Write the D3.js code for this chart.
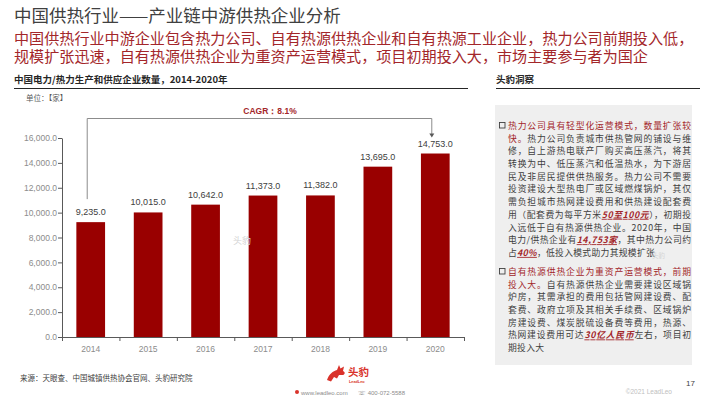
<!DOCTYPE html>
<html>
<head>
<meta charset="utf-8">
<script src="https://cdn.jsdelivr.net/npm/d3@7"></script>
<style>
  body { margin: 0; background: #fff; }
  svg text { font-family: "Noto Sans CJK SC", "Noto Sans", sans-serif; }
  .num { font-family: "Liberation Sans", Arial, sans-serif !important; }
</style>
</head>
<body>
<div class="container"></div>
<script>
var width = 710;
var height = 399;

// chart data
var years = ['2014', '2015', '2016', '2017', '2018', '2019', '2020'];
var counts = [9235, 10015, 10642, 11373, 11382, 13695, 14753];
var yTicks = [0, 2000, 4000, 6000, 8000, 10000, 12000, 14000, 16000];
var cagrLabel = 'CAGR：8.1%';

// texts
var pageTitle = '中国供热行业——产业链中游供热企业分析';
var subTitle = [
  '中国供热行业中游企业包含热力公司、自有热源供热企业和自有热源工业企业，热力公司前期投入低，',
  '规模扩张迅速，自有热源供热企业为重资产运营模式，项目初期投入大，市场主要参与者为国企'
];
var chartTitle = '中国电力/热力生产和供应企业数量，2014-2020年';
var unitLabel = '单位：【家】';
var sideTitle = '头豹洞察';
var sourceText = '来源：天眼查、中国城镇供热协会官网、头豹研究院';

// side panel lines: [text, style] segments; r = red lead, e = emphasis, n = normal
var insight1 = [
  [['热力公司具有轻型化运营模式，数量扩张较', 'r']],
  [['快。', 'r'], ['热力公司负责城市供热管网的铺设与维', 'n']],
  [['修，自上游热电联产厂购买高压蒸汽，将其', 'n']],
  [['转换为中、低压蒸汽和低温热水，为下游居', 'n']],
  [['民及非居民提供供热服务。热力公司不需要', 'n']],
  [['投资建设大型热电厂或区域燃煤锅炉，其仅', 'n']],
  [['需负担城市热网建设费用和供热建设配套费', 'n']],
  [['用（配套费为每平方米', 'n'], ['50至100元', 'e'], ['），初期投', 'n']],
  [['入远低于自有热源供热企业。2020年，中国', 'n']],
  [['电力/供热企业有', 'n'], ['14,753家', 'e'], ['，其中热力公司约', 'n']],
  [['占', 'n'], ['40%', 'e'], ['，低投入模式助力其规模扩张', 'n']]
];
var insight2 = [
  [['自有热源供热企业为重资产运营模式，前期', 'r']],
  [['投入大。', 'r'], ['自有热源供热企业需要建设区域锅', 'n']],
  [['炉房，其需承担的费用包括管网建设费、配', 'n']],
  [['套费、政府立项及其相关手续费、区域锅炉', 'n']],
  [['房建设费、煤炭脱硫设备费等费用，热源、', 'n']],
  [['热网建设费用可达', 'n'], ['30亿人民币', 'e'], ['左右，项目初', 'n']],
  [['期投入大', 'n']]
];

var red = '#a3262a';
var barColor = '#990000';

var svg = d3.select('.container').append('svg')
  .attr('width', width)
  .attr('height', height);

// header
svg.append('text').attr('x', 14).attr('y', 21.5)
  .attr('font-size', 17.5).attr('fill', '#404040')
  .text(pageTitle);

var sub = svg.append('text').attr('x', 14).attr('y', 44)
  .attr('font-size', 15.1).attr('fill', red);
sub.selectAll('tspan').data(subTitle).enter().append('tspan')
  .attr('x', 14).attr('dy', function(d, i) { return i === 0 ? 0 : 18; })
  .text(function(d) { return d; });

svg.append('text').attr('x', 14).attr('y', 83)
  .attr('font-size', 9.5).attr('font-weight', 'bold').attr('fill', '#262626')
  .text(chartTitle);
svg.append('line').attr('x1', 14).attr('x2', 468).attr('y1', 88.5).attr('y2', 88.5)
  .attr('stroke', '#262626').attr('stroke-width', 1);

svg.append('text').attr('x', 496).attr('y', 83)
  .attr('font-size', 9.5).attr('font-weight', 'bold').attr('fill', '#262626')
  .text(sideTitle);
svg.append('line').attr('x1', 496).attr('x2', 700).attr('y1', 88.5).attr('y2', 88.5)
  .attr('stroke', '#262626').attr('stroke-width', 1);

svg.append('text').attr('x', 26).attr('y', 101)
  .attr('font-size', 7.5).attr('fill', '#595959')
  .text(unitLabel);

// scales
var x = d3.scaleBand().domain(years).range([62, 464])
  .paddingInner(0.5).paddingOuter(0.25);
var y = d3.scaleLinear().domain([0, 16000]).range([337, 138]);

// y axis
var yAxis = d3.axisLeft(y).tickValues(yTicks).tickSize(4).tickSizeOuter(0)
  .tickFormat(d3.format(',.1f'));
var gy = svg.append('g').attr('transform', 'translate(62,0)').call(yAxis);
gy.select('.domain').attr('stroke', '#595959');
gy.selectAll('.tick line').attr('stroke', '#595959');
gy.selectAll('.tick text').attr('class', 'num')
  .attr('font-size', 8.5).attr('fill', '#8c8c8c').attr('x', -5);

// bars
svg.selectAll('.bar').data(counts).enter().append('rect')
  .attr('x', function(d, i) { return x(years[i]); })
  .attr('y', function(d) { return y(d); })
  .attr('width', x.bandwidth())
  .attr('height', function(d) { return y(0) - y(d); })
  .attr('fill', barColor);

// x axis
var gx = svg.append('g');
gx.append('line').attr('x1', x.range()[0]).attr('x2', x.range()[1] + 1)
  .attr('y1', y(0) + 0.5).attr('y2', y(0) + 0.5).attr('stroke', '#595959');
gx.selectAll('.xt').data(d3.range(years.length + 1)).enter().append('line')
  .attr('x1', function(i) { return x.range()[0] + i * x.step() + 0.5; })
  .attr('x2', function(i) { return x.range()[0] + i * x.step() + 0.5; })
  .attr('y1', y(0)).attr('y2', y(0) + 4).attr('stroke', '#595959');
gx.selectAll('.xl').data(years).enter().append('text')
  .attr('class', 'num')
  .attr('x', function(d) { return x(d) + x.bandwidth() / 2; })
  .attr('y', y(0) + 15)
  .attr('text-anchor', 'middle').attr('font-size', 8.5).attr('fill', '#8c8c8c')
  .text(function(d) { return d; });

// value labels
svg.selectAll('.val').data(counts).enter().append('text')
  .attr('class', 'num')
  .attr('x', function(d, i) { return x(years[i]) + x.bandwidth() / 2; })
  .attr('y', function(d) { return y(d) - 7; })
  .attr('text-anchor', 'middle').attr('font-size', 9).attr('fill', '#404040')
  .text(function(d) { return d3.format(',.1f')(d); });

// CAGR bracket
var xa = x(years[0]) + x.bandwidth() / 2 - 3.5;
var xb = x(years[years.length - 1]) + x.bandwidth() / 2 - 3.5;
var yTop = y(16000) - 19.5;
svg.append('path')
  .attr('d', 'M' + xa + ',' + (y(counts[0]) - 23) + 'V' + yTop + 'H' + xb + 'V' + (y(counts[counts.length - 1]) - 19))
  .attr('fill', 'none').attr('stroke', '#8c8c8c').attr('stroke-width', 1);
var tipY = y(counts[counts.length - 1]) - 16;
svg.append('path')
  .attr('d', 'M' + (xb - 2.5) + ',' + (tipY - 4) + 'L' + (xb + 2.5) + ',' + (tipY - 4) + 'L' + xb + ',' + tipY + 'Z')
  .attr('fill', '#595959');
svg.append('text').attr('class', 'num')
  .attr('x', 270).attr('y', 114)
  .attr('text-anchor', 'middle').attr('font-size', 8.5).attr('font-weight', 'bold')
  .attr('fill', red).text(cagrLabel);

// watermark
svg.append('text').attr('x', 233).attr('y', 244).attr('font-size', 9)
  .attr('fill', '#d4d4d4').text('头豹');

// side panel
svg.append('rect').attr('x', 495).attr('y', 105).attr('width', 197).attr('height', 260)
  .attr('fill', '#efefef');

var textLeft = 508, textRight = 691, lineStep = 12.7;
function drawBlock(lines, top) {
  svg.append('rect').attr('x', 499.5).attr('y', top - 3.2).attr('width', 5.5).attr('height', 5.5)
    .attr('fill', 'none').attr('stroke', '#404040').attr('stroke-width', 0.9);
  lines.forEach(function(segs, i) {
    var t = svg.append('text').attr('x', textLeft).attr('y', top + 3.2 + i * lineStep)
      .attr('font-size', 8.8).attr('fill', '#404040');
    if (i < lines.length - 1) {
      t.attr('textLength', textRight - textLeft).attr('lengthAdjust', 'spacing');
    } else {
      t.attr('letter-spacing', 0.3);
    }
    segs.forEach(function(s) {
      var ts = t.append('tspan').text(s[0]);
      if (s[1] === 'r') ts.attr('fill', red);
      if (s[1] === 'e') {
        ts.attr('fill', red).attr('font-weight', 'bold').attr('font-style', 'italic')
          .attr('text-decoration', 'underline');
      }
    });
  });
}
drawBlock(insight1, 125.7);
drawBlock(insight2, 271.7);

svg.append('text').attr('x', 652).attr('y', 258).attr('font-size', 6.5)
  .attr('fill', '#d4d4d4').text('头豹');

// footer
svg.append('text').attr('x', 20).attr('y', 381).attr('font-size', 7.5)
  .attr('fill', '#404040').text(sourceText);

var logo = svg.append('g').attr('transform', 'translate(327,365)');
logo.append('path')
  .attr('d', 'M0,15 C2,9 6,6 10,5 L12,0 L13.5,3.5 L17,1.5 L16,6 C18.5,7 18,9.5 16,10 L12,10 L10,13.5 L7,12 L4,16.5 Z')
  .attr('fill', '#d9322b');
logo.append('text').attr('x', 21).attr('y', 11).attr('font-size', 10.5).attr('font-weight', 'bold')
  .attr('fill', '#d9322b').text('头豹');
logo.append('text').attr('class', 'num').attr('x', 22).attr('y', 17.5).attr('font-size', 3.8)
  .attr('font-weight', 'bold').attr('fill', '#d9322b').text('LeadLeo');
svg.append('circle').attr('cx', 297).attr('cy', 392).attr('r', 2).attr('fill', '#d9322b');
svg.append('text').attr('class', 'num').attr('x', 301).attr('y', 394.5).attr('font-size', 6)
  .attr('fill', '#8c8c8c').text('www.leadleo.com');
svg.append('text').attr('class', 'num').attr('x', 358).attr('y', 394.5).attr('font-size', 6)
  .attr('fill', '#8c8c8c').text('☏ 400-072-5588');

svg.append('text').attr('class', 'num').attr('x', 695).attr('y', 386).attr('text-anchor', 'end')
  .attr('font-size', 8).attr('fill', '#404040').text('17');
svg.append('text').attr('class', 'num').attr('x', 672).attr('y', 394).attr('text-anchor', 'end')
  .attr('font-size', 6.5).attr('fill', '#c0c0c0').text('©2021 LeadLeo');
</script>
</body>
</html>
